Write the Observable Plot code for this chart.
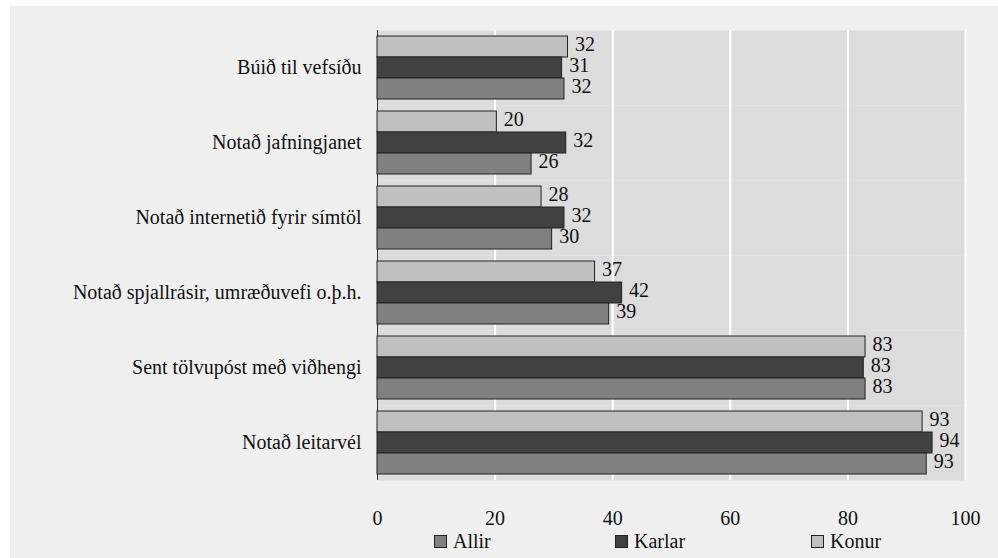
<!DOCTYPE html>
<html>
<head>
<meta charset="utf-8">
<script src="https://cdn.jsdelivr.net/npm/d3@7"></script>
<script src="https://cdn.jsdelivr.net/npm/@observablehq/plot@0.6"></script>
<style>
  html, body { margin: 0; padding: 0; background: #ffffff; }
  #wrap { position: relative; width: 998px; height: 558px; }
  #panel { position: absolute; left: 10px; top: 6px; width: 988px; height: 552px; background: #efefef; }
  #chart { position: absolute; left: 0; top: 0; }
  #legend { position: absolute; left: 0; top: 528px; width: 998px; height: 30px; color: #111; }
  .item { position: absolute; top: 0; height: 26px; display: flex; align-items: center; }
  .sw { width: 11px; height: 11px; border: 1px solid #222; margin-right: 6px; }
</style>
</head>
<body>
<div id="wrap">
  <div id="panel"></div>
  <div id="chart"></div>
  <div id="legend"></div>
</div>
<script>
const categories = [
  "Búið til vefsíðu",
  "Notað jafningjanet",
  "Notað internetið fyrir símtöl",
  "Notað spjallrásir, umræðuvefi o.þ.h.",
  "Sent tölvupóst með viðhengi",
  "Notað leitarvél"
];
const seriesNames = ["Konur", "Karlar", "Allir"];
const seriesColors = ["#c0c0c0", "#414141", "#808080"];
const konurValues = [32.4, 20.3, 27.9, 37.0, 83.0, 92.7];
const karlarValues = [31.4, 32.1, 31.8, 41.6, 82.7, 94.4];
const allirValues = [31.8, 26.2, 29.7, 39.4, 83.0, 93.4];
const konurLabels = [32, 20, 28, 37, 83, 93];
const karlarLabels = [31, 32, 32, 42, 83, 94];
const allirLabels = [32, 26, 30, 39, 83, 93];
const xTicks = [0, 20, 40, 60, 80, 100];
const gridTicks = [20, 40, 60, 80, 100];
const legendOrder = ["Allir", "Karlar", "Konur"];
const legendLeft = [434, 615, 811];

const FONT = "'Liberation Serif', serif";

const valuesBySeries = {Konur: konurValues, Karlar: karlarValues, Allir: allirValues};
const labelsBySeries = {Konur: konurLabels, Karlar: karlarLabels, Allir: allirLabels};
const data = [];
categories.forEach((c, i) => {
  seriesNames.forEach(s => {
    data.push({category: c, series: s, value: valuesBySeries[s][i], label: String(labelsBySeries[s][i])});
  });
});

const chart = Plot.plot({
  width: 998,
  height: 528,
  marginLeft: 377,
  marginRight: 33,
  marginTop: 29,
  marginBottom: 47,
  style: {
    fontFamily: FONT,
    fontSize: "20px",
    background: "transparent"
  },
  x: {domain: [0, 100]},
  fy: {domain: categories, padding: 0},
  y: {domain: seriesNames, paddingInner: 0, paddingOuter: 0.22, axis: null},
  color: {domain: seriesNames, range: seriesColors},
  marks: [
    Plot.frame({fill: "#dcdcdc", stroke: "none"}),
    Plot.gridX(gridTicks, {stroke: "#ffffff", strokeOpacity: 1, strokeWidth: 2}),
    Plot.ruleX([0], {stroke: "#333333", strokeWidth: 1}),
    Plot.barX(data, {x: "value", y: "series", fy: "category", fill: "series", stroke: "#222222", strokeWidth: 1}),
    Plot.text(data, {x: "value", y: "series", fy: "category", text: "label", textAnchor: "start", dx: 7, dy: -2, fill: "#111", fontFamily: FONT, fontSize: 20}),
    Plot.axisFy({anchor: "left", tickSize: 0, tickPadding: 16, label: null, fontFamily: FONT, fontSize: 20, fill: "#111"}),
    Plot.axisX({ticks: xTicks, tickSize: 0, tickPadding: 30, label: null, tickFormat: d => String(d), fontFamily: FONT, fontSize: 20, fill: "#111"})
  ]
});
document.getElementById("chart").appendChild(chart);

const legend = document.getElementById("legend");
legendOrder.forEach((name, i) => {
  const item = document.createElement("div");
  item.className = "item";
  item.style.left = legendLeft[i] + "px";
  const sw = document.createElement("span");
  sw.className = "sw";
  sw.style.background = seriesColors[seriesNames.indexOf(name)];
  const t = document.createElement("span");
  t.style.fontFamily = FONT;
  t.style.fontSize = "20px";
  t.textContent = name;
  item.appendChild(sw);
  item.appendChild(t);
  legend.appendChild(item);
});
</script>
</body>
</html>
